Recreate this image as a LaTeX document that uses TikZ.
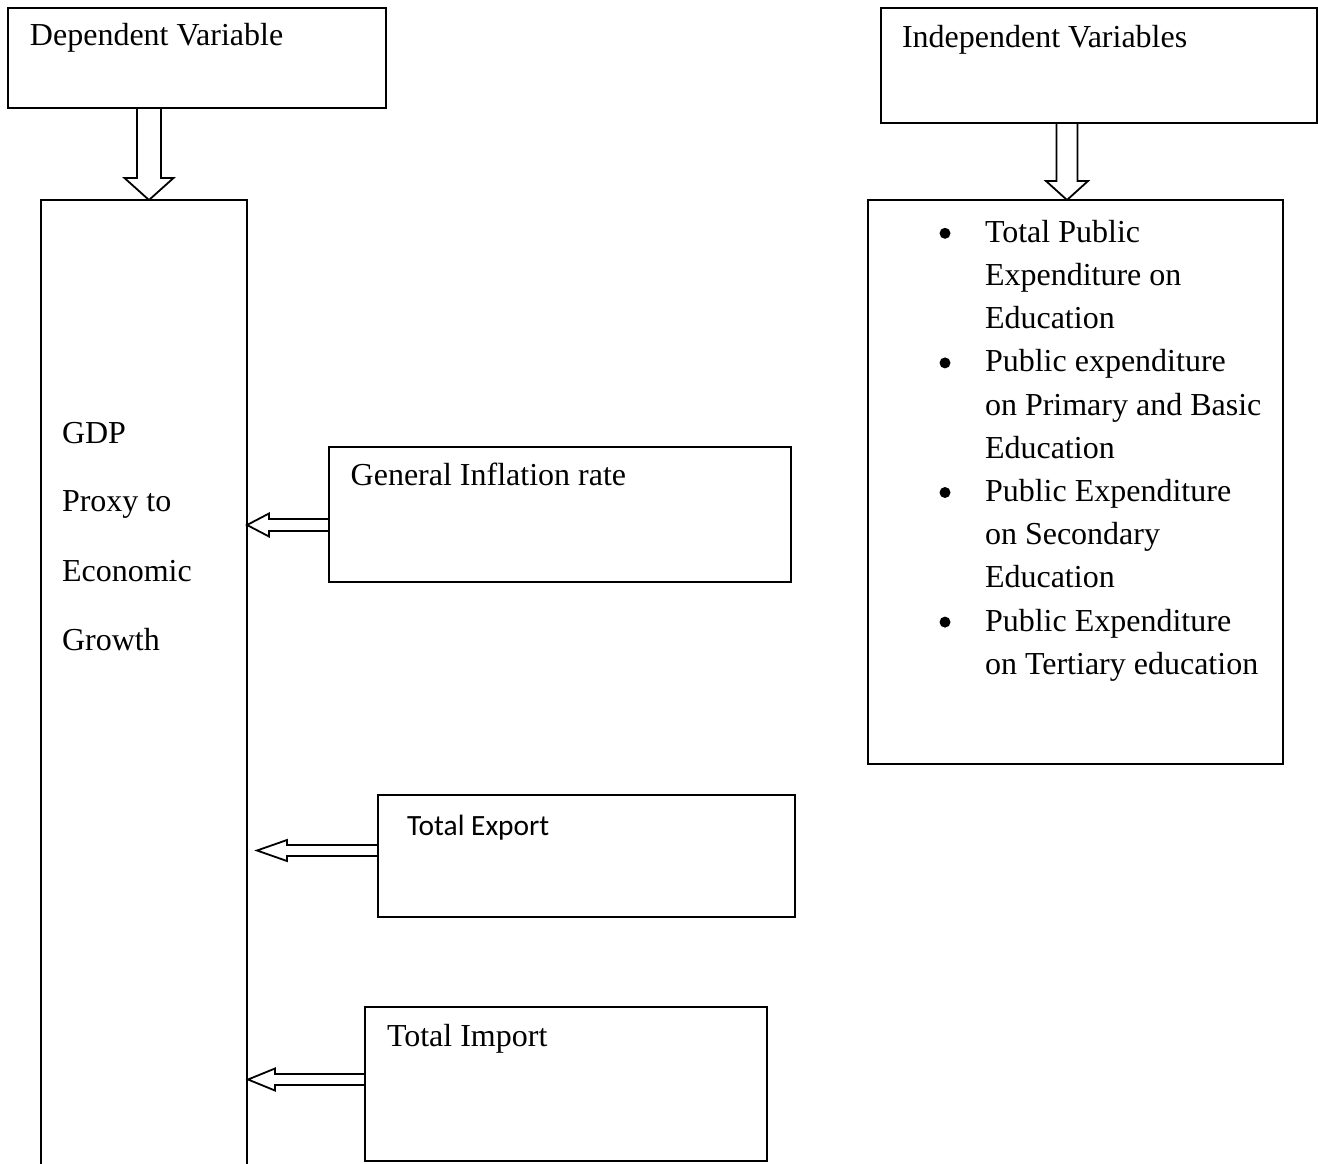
\documentclass[tikz,border=0pt]{standalone}
\usepackage{fontspec}
\setmainfont{Liberation Serif}
\newfontfamily\calib{Carlito}
\usetikzlibrary{calc}
\tikzset{
  box/.style={draw, line width=1.8pt, inner sep=0pt, outer sep=0pt, rectangle},
  arr/.style={draw, line width=1.8pt, line join=miter},
  txt/.style={inner sep=0pt, outer sep=0pt, anchor=base west, font=\fontsize{32}{43.2}\selectfont},
  ctxt/.style={inner sep=0pt, outer sep=0pt, anchor=base west, font=\calib\fontsize{29.4}{36}\selectfont},
  bul/.style={fill=black, draw=none, circle, inner sep=0pt, minimum size=11pt}
}
\newcommand\leftarr[5]{\draw[arr] ($(#2)+(0,-#4)$) -- ($(#1)+(#3,-#4)$) -- ($(#1)+(#3,-#5)$) -- (#1) -- ($(#1)+(#3,#5)$) -- ($(#1)+(#3,#4)$) -- ($(#2)+(0,#4)$);}
\newcommand\dnarr[5]{\draw[arr] ($(#1)+(-#4,0)$) -- ($(#2)+(-#4,-#3)$) -- ($(#2)+(-#5,-#3)$) -- (#2) -- ($(#2)+(#5,-#3)$) -- ($(#2)+(#4,-#3)$) -- ($(#1)+(#4,0)$);}
\begin{document}
\begin{tikzpicture}[x=1pt,y=-1pt]
\useasboundingbox (0,0) rectangle (1318,1163);
% boxes
\node[box, minimum width=378pt, minimum height=100pt] (dep) at (197,58) {};
\node[box, minimum width=436pt, minimum height=115pt] (indep) at (1099,65.5) {};
\node[box, minimum width=206pt, minimum height=1000pt] (gdp) at (144,700) {};
\node[box, minimum width=462pt, minimum height=135pt] (infl) at (560,514.5) {};
\node[box, minimum width=417pt, minimum height=122pt] (exp) at (586.5,856) {};
\node[box, minimum width=402pt, minimum height=154pt] (imp) at (566,1084) {};
\node[box, minimum width=415pt, minimum height=564pt] (list) at (1075.5,482) {};
% texts
\node[txt] (deptext) at (30,45.7) {Dependent Variable};
\node[txt] (indeptext) at (902,47) {Independent Variables};
\node[txt] (g1) at (62,443) {GDP};
\node[txt] (g2) at (62,511.7) {Proxy to};
\node[txt] (g3) at (62,581.7) {Economic};
\node[txt] (g4) at (62,650) {Growth};
\node[txt] (infltext) at (350.7,485.7) {General Inflation rate};
\node[ctxt] (exptext) at (407,835) {Total Export};
\node[txt] (imptext) at (387,1046) {Total Import};
% list
\foreach \t [count=\i from 0] in {Total Public, Expenditure on, Education, Public expenditure, on Primary and Basic, Education, Public Expenditure, on Secondary, Education, Public Expenditure, on Tertiary education}{
  \node[txt] (l\i) at (985,242.3+43.2*\i) {\t};
}
\foreach \i in {0,3,6,9}{
  \node[bul] (b\i) at (945,233.3+43.2*\i) {};
}
% arrows
\coordinate (d1) at ($(dep.south west)+(141,0)$);
\coordinate (d1t) at (d1 |- gdp.north);
\dnarr{d1}{d1t}{22}{12}{24.5}
\coordinate (d2) at ($(indep.south west)+(186,0)$);
\coordinate (d2t) at (d2 |- list.north);
\dnarr{d2}{d2t}{19}{10.5}{21}
\coordinate (t1) at ($(gdp.north east)+(0,325)$);
\coordinate (e1) at (t1 -| infl.west);
\leftarr{t1}{e1}{22}{6}{11.5}
\coordinate (t2) at ($(gdp.north east)+(10,650.5)$);
\coordinate (e2) at (t2 -| exp.west);
\leftarr{t2}{e2}{30}{5.5}{10.5}
\coordinate (t3) at ($(gdp.north east)+(1,879.5)$);
\coordinate (e3) at (t3 -| imp.west);
\leftarr{t3}{e3}{27}{5.5}{11}
\end{tikzpicture}
\end{document}
